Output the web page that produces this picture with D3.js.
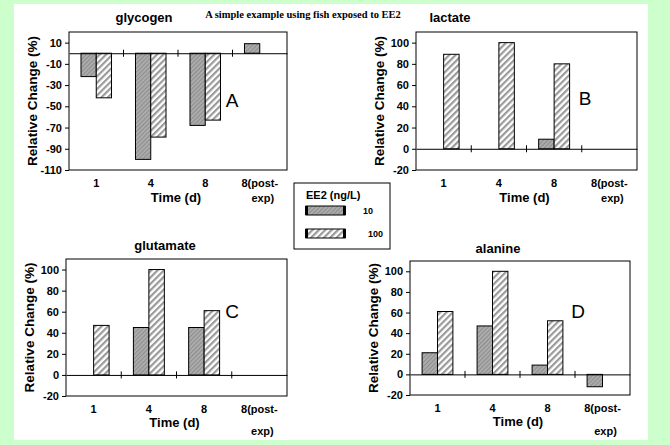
<!DOCTYPE html>
<html><head><meta charset="utf-8">
<script src="https://cdn.jsdelivr.net/npm/d3@7"></script>
<style>body{margin:0;background:#ccffcc;} svg{display:block;}</style>
</head><body>
<svg id="c" width="670" height="445"></svg>
<script>
const categories = ["1", "4", "8", "8(post-exp)"];
const seriesNames = ["10", "100"];
const glycogen10 = [-22, -100, -68, 9];
const glycogen100 = [-42, -79, -63, null];
const lactate10 = [null, null, 9, null];
const lactate100 = [89, 100, 80, null];
const glutamate10 = [null, 45, 45, null];
const glutamate100 = [47, 100, 61, null];
const alanine10 = [21, 47, 9, -12];
const alanine100 = [61, 100, 52, null];
const ticksA = [-110, -90, -70, -50, -30, -10, 10];
const ticksBCD = [-20, 0, 20, 40, 60, 80, 100];

const svg = d3.select("#c");
const defs = svg.append("defs");
const pg = defs.append("pattern").attr("id", "pGrey").attr("patternUnits", "userSpaceOnUse")
  .attr("width", 3).attr("height", 3).attr("patternTransform", "rotate(45)");
pg.append("rect").attr("width", 3).attr("height", 3).attr("fill", "#ababab");
pg.append("rect").attr("width", 1).attr("height", 3).attr("fill", "#8e8e8e");
const ph = defs.append("pattern").attr("id", "pHatch").attr("patternUnits", "userSpaceOnUse")
  .attr("width", 4.5).attr("height", 4.5).attr("patternTransform", "rotate(45)");
ph.append("rect").attr("width", 4.5).attr("height", 4.5).attr("fill", "#ffffff");
ph.append("rect").attr("width", 2.2).attr("height", 4.5).attr("fill", "#9a9a9a");
const fills = ["url(#pGrey)", "url(#pHatch)"];

svg.append("rect").attr("x", 14).attr("y", 4).attr("width", 634).attr("height", 436).attr("fill", "#fff");

svg.append("text").attr("x", 303).attr("y", 18).attr("text-anchor", "middle")
  .attr("font-family", "Liberation Serif").attr("font-weight", "bold").attr("font-size", 10.5)
  .text("A simple example using fish exposed to EE2");

const F = "Liberation Sans";
const panels = [
  {name: "glycogen", s10: glycogen10, s100: glycogen100, dom: [-110, 20], ticks: ticksA, x0: 69, x1: 287, y0: 32, y1: 170, letter: "A", tx: 144, ty: 22, lx: 232, ly: 107, o1: 17, o2: 32, o3: 32},
  {name: "lactate", s10: lactate10, s100: lactate100, dom: [-20, 110], ticks: ticksBCD, x0: 416, x1: 637, y0: 32, y1: 170, letter: "B", tx: 450, ty: 22, lx: 585, ly: 105, o1: 17, o2: 32, o3: 32},
  {name: "glutamate", s10: glutamate10, s100: glutamate100, dom: [-20, 110], ticks: ticksBCD, x0: 66, x1: 287, y0: 259, y1: 396, letter: "C", tx: 165, ty: 250, lx: 232, ly: 318, o1: 17, o2: 31, o3: 39},
  {name: "alanine", s10: alanine10, s100: alanine100, dom: [-20, 110], ticks: ticksBCD, x0: 410, x1: 630, y0: 261, y1: 395, letter: "D", tx: 498, ty: 253, lx: 578, ly: 318, o1: 17, o2: 31, o3: 40}
];

panels.forEach(p => {
  const g = svg.append("g");
  const x = d3.scaleBand().domain(categories).range([p.x0, p.x1]);
  const xs = d3.scaleBand().domain(seriesNames).range([0, x.bandwidth() * 0.56]);
  const off = x.bandwidth() * 0.22;
  const y = d3.scaleLinear().domain(p.dom).range([p.y1, p.y0]);

  g.append("rect").attr("x", p.x0).attr("y", p.y0).attr("width", p.x1 - p.x0).attr("height", p.y1 - p.y0)
    .attr("fill", "#fff").attr("stroke", "#000").attr("stroke-width", 1);

  const data = [];
  categories.forEach((c, i) => {
    [p.s10, p.s100].forEach((s, j) => {
      if (s[i] !== null) data.push({c, v: s[i], j});
    });
  });
  g.selectAll("rect.bar").data(data).join("rect").attr("class", "bar")
    .attr("x", d => x(d.c) + off + xs(seriesNames[d.j]))
    .attr("width", xs.bandwidth())
    .attr("y", d => y(Math.max(0, d.v)))
    .attr("height", d => Math.abs(y(d.v) - y(0)))
    .attr("fill", d => fills[d.j]).attr("stroke", "#000").attr("stroke-width", 1);

  const xAxis = d3.axisBottom(x).tickValues([]).tickSizeOuter(0);
  const za = g.append("g").attr("transform", `translate(0,${y(0)})`).call(xAxis);
  za.select(".domain").attr("stroke", "#000");
  categories.slice(1).forEach(c => {
    g.append("line").attr("x1", x(c)).attr("x2", x(c)).attr("y1", y(0) - 3.5).attr("y2", y(0) + 3.5)
      .attr("stroke", "#000");
  });

  const yAxis = d3.axisLeft(y).tickValues(p.ticks).tickFormat(d => String(d)).tickSize(4).tickSizeOuter(0).tickPadding(3);
  const ya = g.append("g").attr("transform", `translate(${p.x0},0)`).call(yAxis);
  ya.select(".domain").remove();
  ya.selectAll("text").attr("font-family", F).attr("font-weight", "bold").attr("font-size", 11).attr("fill", "#000");

  categories.forEach((c, i) => {
    const cx = x(c) + x.bandwidth() / 2;
    if (c.indexOf("post") >= 0) {
      g.append("text").attr("x", cx).attr("y", p.y1 + p.o1).attr("text-anchor", "middle")
        .attr("font-family", F).attr("font-weight", "bold").attr("font-size", 11).text("8(post-");
      g.append("text").attr("x", cx + 3).attr("y", p.y1 + p.o3).attr("text-anchor", "middle")
        .attr("font-family", F).attr("font-weight", "bold").attr("font-size", 11).text("exp)");
    } else {
      g.append("text").attr("x", cx).attr("y", p.y1 + p.o1).attr("text-anchor", "middle")
        .attr("font-family", F).attr("font-weight", "bold").attr("font-size", 11).text(c);
    }
  });
  g.append("text").attr("x", (p.x0 + p.x1) / 2 - 2).attr("y", p.y1 + p.o2).attr("text-anchor", "middle")
    .attr("font-family", F).attr("font-weight", "bold").attr("font-size", 13).text("Time (d)");
  g.append("text").attr("transform", `translate(${p.x0 - 32},${(p.y0 + p.y1) / 2}) rotate(-90)`)
    .attr("text-anchor", "middle").attr("font-family", F).attr("font-weight", "bold").attr("font-size", 13.5)
    .text("Relative Change (%)");
  g.append("text").attr("x", p.tx).attr("y", p.ty).attr("text-anchor", "middle")
    .attr("font-family", F).attr("font-weight", "bold").attr("font-size", 13).text(p.name);
  g.append("text").attr("x", p.lx).attr("y", p.ly).attr("text-anchor", "middle")
    .attr("font-family", F).attr("font-size", 19).text(p.letter);
});

const lg = svg.append("g");
lg.append("rect").attr("x", 294).attr("y", 183).attr("width", 96).attr("height", 66)
  .attr("fill", "#fff").attr("stroke", "#000");
lg.append("text").attr("x", 306).attr("y", 199).attr("font-family", F).attr("font-weight", "bold")
  .attr("font-size", 11).text("EE2 (ng/L)");
seriesNames.forEach((s, j) => {
  const yy = 206 + j * 23;
  lg.append("rect").attr("x", 306).attr("y", yy).attr("width", 39).attr("height", 9)
    .attr("fill", fills[j]).attr("stroke", "#000");
  lg.append("rect").attr("x", 305).attr("y", yy).attr("width", 3).attr("height", 9).attr("fill", "#000");
  lg.append("rect").attr("x", 343).attr("y", yy).attr("width", 3).attr("height", 9).attr("fill", "#000");
  lg.append("text").attr("x", j === 0 ? 363 : 368).attr("y", yy + 8).attr("font-family", F)
    .attr("font-weight", "bold").attr("font-size", 9).text(s);
});
</script>
</body></html>
